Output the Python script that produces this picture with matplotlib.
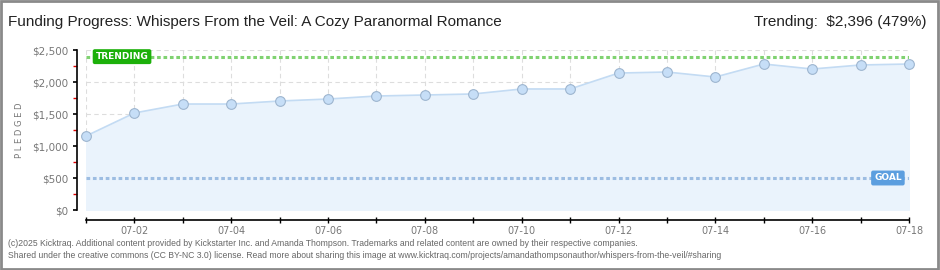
import matplotlib.pyplot as plt
import matplotlib.patches as mpatches
from matplotlib.ticker import MultipleLocator, FuncFormatter
import numpy as np

# Data
dates = ['07-01', '07-02', '07-03', '07-04', '07-05', '07-06', '07-07', '07-08', '07-09',
         '07-10', '07-11', '07-12', '07-13', '07-14', '07-15', '07-16', '07-17', '07-18']
pledged = [1156, 1516, 1656, 1656, 1703, 1734, 1781, 1797, 1813,
           1891, 1891, 2140, 2156, 2078, 2281, 2203, 2266, 2281]
GOAL = 500
TRENDING = 2396

TITLE = 'Funding Progress: Whispers From the Veil: A Cozy Paranormal Romance'
TREND_TEXT = 'Trending:  $2,396 (479%)'
FOOTER1 = ('(c)2025 Kicktraq. Additional content provided by Kickstarter Inc. and Amanda Thompson. '
           'Trademarks and related content are owned by their respective companies.')
FOOTER2 = ('Shared under the creative commons (CC BY-NC 3.0) license. Read more about sharing this image '
           'at www.kicktraq.com/projects/amandathompsonauthor/whispers-from-the-veil/#sharing')

W, H = 940, 270
PX = 72 / 100  # points per pixel
fig = plt.figure(figsize=(W / 100, H / 100), dpi=100)
fig.patch.set_facecolor('white')

# outer frame
fig.patches.append(mpatches.Rectangle((0.001, 0.002), 0.997, 0.995, transform=fig.transFigure,
                                      fill=False, edgecolor='#8a8a8a', linewidth=2))

ax = fig.add_axes([86 / W, 1 - 210 / H, (909 - 86) / W, 160 / H])
x = np.arange(len(dates))

ax.fill_between(x, pledged, 0, color='#eaf3fc', zorder=1)
ax.plot(x, pledged, color='#c3dbf3', linewidth=1.2, zorder=3)
ax.plot(x, pledged, linestyle='none', marker='o', markersize=7, clip_on=False,
        markerfacecolor='#c6def7', markeredgecolor='#9db5cf', markeredgewidth=0.8, zorder=4)

# trending and goal lines
ax.axhline(TRENDING, color='#80d271', linewidth=2.2, linestyle=(0, (1.2, 0.9)), zorder=2)
ax.axhline(GOAL, color='#9dbde2', linewidth=2.2, linestyle=(0, (1.2, 0.9)), zorder=2)

ax.text(0.2, TRENDING, 'TRENDING', color='white', fontsize=6.5, ha='left', va='center',
        fontweight='bold', zorder=5,
        bbox=dict(boxstyle='round,pad=0.25,rounding_size=0.15', facecolor='#1cb00a',
                  edgecolor='#1cb00a'))
ax.text(16.85, GOAL, 'GOAL', color='white', fontsize=6.5, ha='right', va='center',
        fontweight='bold', zorder=5,
        bbox=dict(boxstyle='round,pad=0.25,rounding_size=0.15', facecolor='#5b9edf',
                  edgecolor='#5b9edf'))

ax.set_xlim(0, len(dates) - 1)
ax.set_ylim(0, 2500)

# grid
ax.grid(True, which='major', color='#dddddd', linestyle=(0, (4, 3)), linewidth=0.8)
ax.set_axisbelow(True)

# spines
for s in ['top', 'right']:
    ax.spines[s].set_visible(False)
ax.spines['left'].set_position(('outward', 9 * PX))
ax.spines['bottom'].set_position(('outward', 10 * PX))
ax.spines['left'].set_linewidth(1.2)
ax.spines['bottom'].set_linewidth(1.2)

ax.yaxis.set_major_locator(MultipleLocator(500))
ax.yaxis.set_minor_locator(MultipleLocator(250))
ax.yaxis.set_major_formatter(FuncFormatter(lambda v, p: '${:,.0f}'.format(v)))
ax.tick_params(axis='y', which='major', length=3, width=1.2, color='black',
               labelsize=7.5, labelcolor='#777777', pad=3)
ax.tick_params(axis='y', which='minor', length=3, width=1, color='#dd0000')

ax.set_xticks(x)
ax.set_xticklabels([d if i % 2 == 1 else '' for i, d in enumerate(dates)])
ax.tick_params(axis='x', which='major', length=5, width=1, direction='inout',
               labelsize=7, labelcolor='#777777', pad=1.5)
ax.grid(True, axis='x', color='#dddddd', linestyle=(0, (4, 3)), linewidth=0.8)

ax.set_ylabel('P L E D G E D', fontsize=6, color='#777777', labelpad=6)

fig.text(8 / W, 1 - 22 / H, TITLE, fontsize=11, color='#222222', ha='left', va='center',
         family='Liberation Sans')
fig.text(926 / W, 1 - 22 / H, TREND_TEXT, fontsize=11, color='#222222', ha='right', va='center',
         family='Liberation Sans')
fig.text(8 / W, 1 - 243 / H, FOOTER1, fontsize=6.2, color='#666666', ha='left', va='center',
         family='Liberation Sans')
fig.text(8 / W, 1 - 256 / H, FOOTER2, fontsize=6.2, color='#666666', ha='left', va='center',
         family='Liberation Sans')

fig.savefig('out.png', dpi=100)
